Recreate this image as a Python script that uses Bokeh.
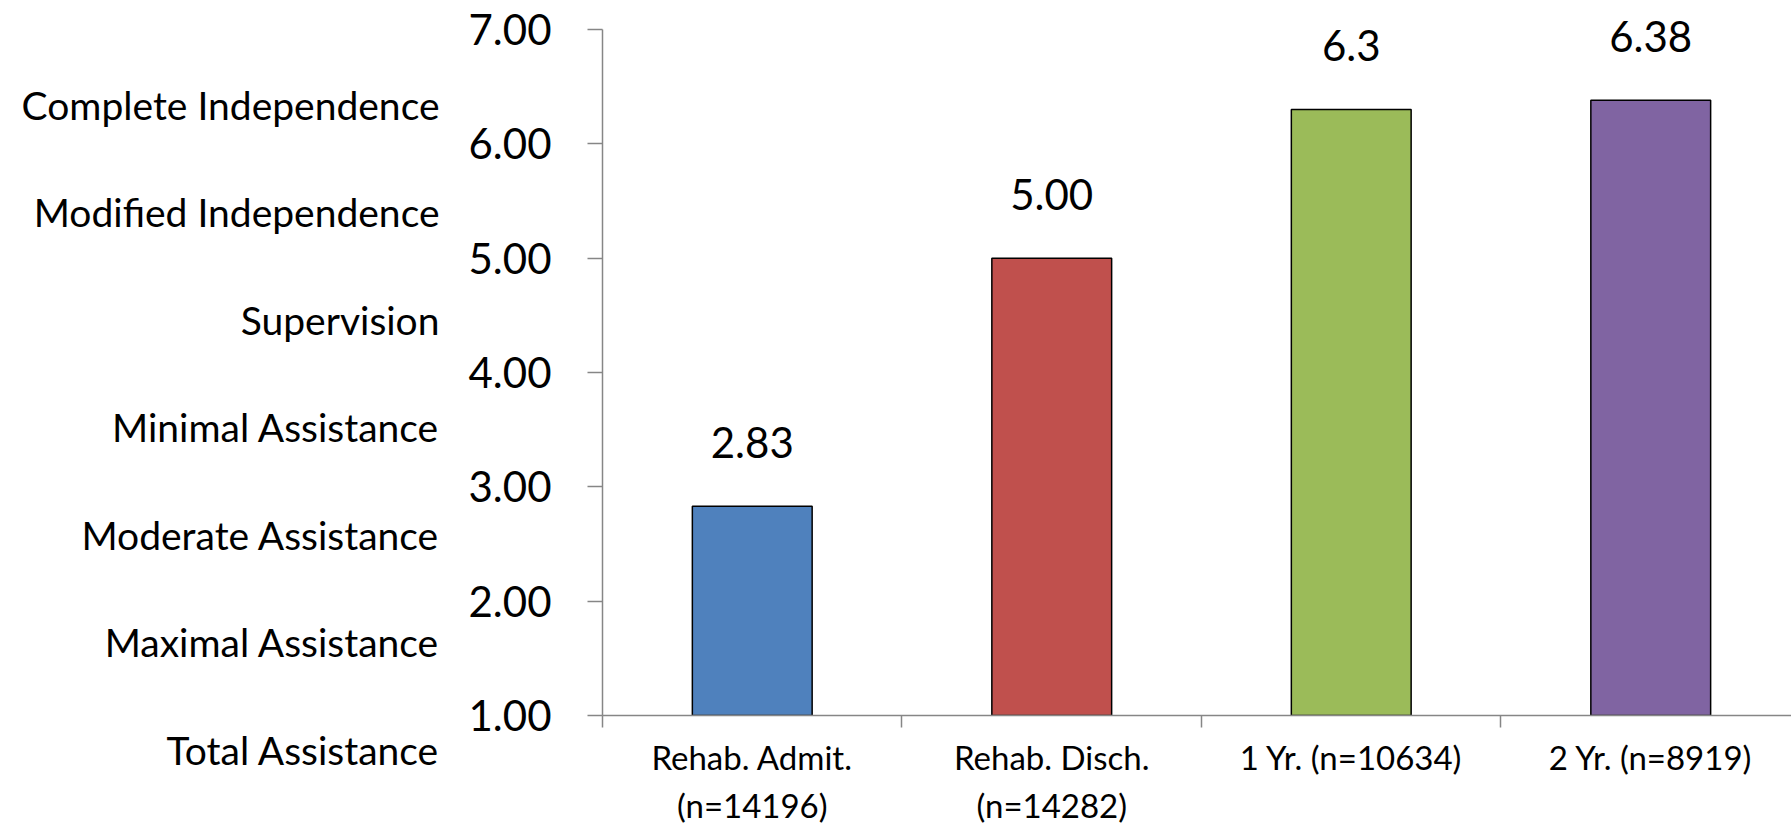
import numpy as np
from bokeh.plotting import figure
from bokeh.layouts import row
from bokeh.models import (Range1d, FixedTicker, NumeralTickFormatter, LinearAxis,
                          LabelSet, ColumnDataSource)
from bokeh.core.properties import value
from bokeh.embed import file_html
from bokeh.resources import INLINE

# ---- data ----
categories = ["Rehab. Admit.\n(n=14196)", "Rehab. Disch.\n(n=14282)",
              "1 Yr. (n=10634)", "2 Yr. (n=8919)"]
values = [2.83, 5.00, 6.30, 6.38]
value_labels = ["2.83", "5.00", "6.3", "6.38"]
colors = ["#4F81BD", "#C0504D", "#9BBB59", "#8064A2"]
y_ticks = [1, 2, 3, 4, 5, 6, 7]
fim_levels = ["Total Assistance", "Maximal Assistance", "Moderate Assistance",
              "Minimal Assistance", "Supervision", "Modified Independence",
              "Complete Independence"]

FONT = "Lato"
AXIS_GRAY = "#868686"
W, H = 1791, 827
LEFT_W = 444
AXIS_X = 602          # pixel position of the value axis
TOP_PAD = 7           # frame top border
Y7_PX = 29            # pixel row of the 7.00 tick
PX_PER_UNIT = 114.5

n = len(values)
xs = np.arange(n) + 0.5
src = ColumnDataSource(dict(x=xs, top=values, label=value_labels, color=colors))

# ---- main chart ----
y_top = 7 + (Y7_PX - TOP_PAD) / PX_PER_UNIT
p = figure(width=W - LEFT_W, height=H,
           x_range=Range1d(0, n - 0.03), y_range=Range1d(1, y_top),
           output_backend="svg", toolbar_location=None,
           x_axis_type=None, y_axis_type=None,
           min_border_left=AXIS_X - LEFT_W, min_border_right=0,
           min_border_top=TOP_PAD, min_border_bottom=111)
p.outline_line_color = None
p.frame_align = False

p.vbar(x="x", top="top", bottom=1, width=0.4, fill_color="color",
       line_color="black", line_width=1.5, source=src)

yaxis = LinearAxis(ticker=FixedTicker(ticks=y_ticks), bounds=(1, 7),
                   formatter=NumeralTickFormatter(format="0.00"),
                   axis_line_color=AXIS_GRAY, axis_line_width=1.5,
                   major_tick_line_color=AXIS_GRAY, major_tick_line_width=1.5,
                   major_tick_out=15, major_tick_in=0,
                   minor_tick_out=0, minor_tick_in=0,
                   major_label_standoff=36,
                   major_label_text_font=FONT,
                   major_label_text_font_size="42px",
                   major_label_text_color="black")
p.add_layout(yaxis, "left")

xaxis = LinearAxis(ticker=FixedTicker(ticks=list(xs), minor_ticks=list(range(n + 1))),
                   major_label_overrides={float(x): c for x, c in zip(xs, categories)},
                   axis_line_color=AXIS_GRAY, axis_line_width=1.5,
                   major_tick_out=0, major_tick_in=0,
                   minor_tick_out=12, minor_tick_in=0,
                   minor_tick_line_color=AXIS_GRAY, minor_tick_line_width=1.5,
                   major_label_standoff=9,
                   major_label_text_line_height=1.2,
                   major_label_text_font=FONT,
                   major_label_text_font_size="33px",
                   major_label_text_color="black")
p.add_layout(xaxis, "below")

p.add_layout(LabelSet(x="x", y="top", text="label", source=src, y_offset=64,
                      text_align="center", text_baseline="middle",
                      text_font=value(FONT), text_font_size=value("42px"),
                      text_color="black"))

# ---- left panel with FIM level names (same vertical scale as the chart) ----
top_val = 7 + Y7_PX / PX_PER_UNIT
bottom_val = 7 - (H - Y7_PX) / PX_PER_UNIT
pl = figure(width=LEFT_W, height=H, x_range=Range1d(0, 1),
            y_range=Range1d(bottom_val, top_val),
            output_backend="svg", toolbar_location=None,
            x_axis_type=None, y_axis_type=None,
            min_border=0)
pl.outline_line_color = None
pl.frame_align = False
pl.grid.visible = False
level_y = [0.71 + 0.939 * i for i in range(len(fim_levels))]
pl.text(x=[1] * len(fim_levels), y=level_y, text=fim_levels, x_offset=-5,
        text_align="right", text_baseline="middle", text_font=value(FONT),
        text_font_size="39px", text_color="black")

layout = row(pl, p)
open("out.html", "w").write(file_html(layout, INLINE))
